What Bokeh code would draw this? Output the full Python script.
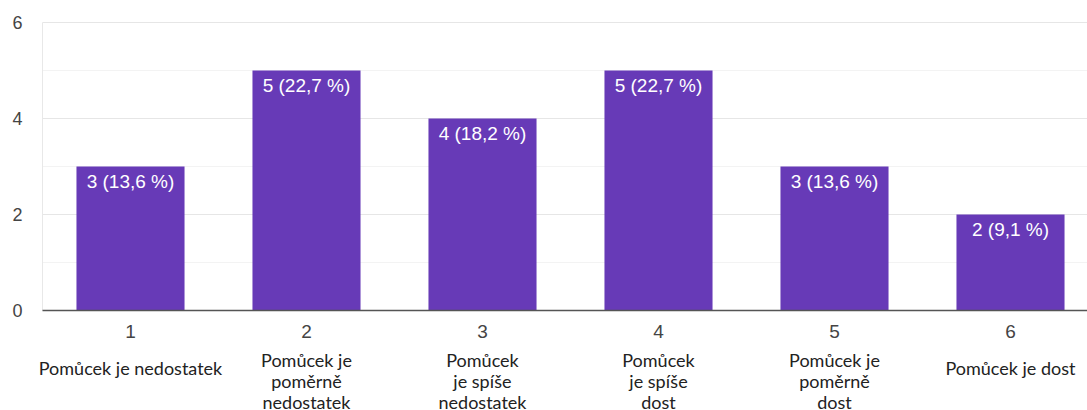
from bokeh.plotting import figure
from bokeh.models import ColumnDataSource, Range1d
from bokeh.core.properties import value
from bokeh.embed import file_html
from bokeh.resources import INLINE

# Survey answers: scale 1..6 with verbal anchors
categories = [1, 2, 3, 4, 5, 6]
descriptions = [
    "Pomůcek je nedostatek",
    "Pomůcek je\npoměrně\nnedostatek",
    "Pomůcek\nje spíše\nnedostatek",
    "Pomůcek\nje spíše\ndost",
    "Pomůcek je\npoměrně\ndost",
    "Pomůcek je dost",
]
counts = [3, 5, 4, 5, 3, 2]
percents = [13.6, 22.7, 18.2, 22.7, 13.6, 9.1]
y_ticks = [0, 2, 4, 6]
y_minor = [1, 3, 5]
y_max = 6

bar_labels = [f"{c} ({p:.1f} %)".replace(".", ",") for c, p in zip(counts, percents)]
desc_offsets = [38 if "\n" in d else 46 for d in descriptions]

src = ColumnDataSource(dict(
    x=categories, top=counts, label=bar_labels,
    num=[str(c) for c in categories], desc=descriptions,
    zero=[0] * len(categories), desc_off=desc_offsets,
))

PURPLE = "#673ab7"
W, H = 1087, 410
left_px, top_px, bottom_px = 42, 22, 100
px_per_cat = 176
px_per_unit = 48

# The frame covers the whole canvas; the plotting area proper starts at x=0.5, y=0,
# so the axis texts can be drawn as glyphs without being clipped.
x0 = 0.5
x_start = x0 - left_px / px_per_cat
x_end = x_start + W / px_per_cat
y_start = -bottom_px / px_per_unit
y_end = y_max + top_px / px_per_unit

p = figure(width=W, height=H, output_backend="svg", toolbar_location=None,
           x_range=Range1d(x_start, x_end), y_range=Range1d(y_start, y_end),
           min_border=0)
p.outline_line_color = None
p.background_fill_color = "white"
p.axis.visible = False
p.grid.grid_line_color = None

# horizontal grid lines, lighter at the odd values
major_grid = [t for t in y_ticks if t > 0]
p.segment(x0=[x0] * len(major_grid), y0=major_grid, x1=[x_end] * len(major_grid),
          y1=major_grid, line_color="#e6e6e6", line_width=1)
p.segment(x0=[x0] * len(y_minor), y0=y_minor, x1=[x_end] * len(y_minor),
          y1=y_minor, line_color="#f3f3f3", line_width=1)
# light left border of the plotting area
p.segment(x0=[x0], y0=[0], x1=[x0], y1=[y_max], line_color="#e8e8e8", line_width=1)

p.vbar(x="x", top="top", width=0.614, source=src, fill_color=PURPLE, line_color=None)

# baseline
p.segment(x0=[x0], y0=[0], x1=[x_end], y1=[0], line_color="#555555", line_width=1.4)

# value labels inside the bars
p.text(x="x", y="top", text="label", source=src,
       text_color="white", text_font=value("Liberation Sans"),
       text_font_size="19px", text_align="center",
       text_baseline="top", y_offset=4)

# y tick labels
p.text(x=[x0] * len(y_ticks), y=y_ticks, text=[str(t) for t in y_ticks],
       text_color="#444444", text_font=value("Liberation Sans"),
       text_font_size="18px", text_align="right", text_baseline="middle",
       x_offset=-20, y_offset=0)

# category numbers and descriptions under the baseline
p.text(x="x", y="zero", text="num", source=src,
       text_color="#444444", text_font=value("Liberation Sans"),
       text_font_size="19px", text_align="center",
       text_baseline="top", y_offset=14)
p.text(x="x", y="zero", text="desc", source=src,
       text_color="#222222", text_font=value("Lato"),
       text_font_size="18px", text_align="center",
       text_baseline="top", y_offset="desc_off", text_line_height=0.97)

open("out.html", "w").write(file_html(p, INLINE))
